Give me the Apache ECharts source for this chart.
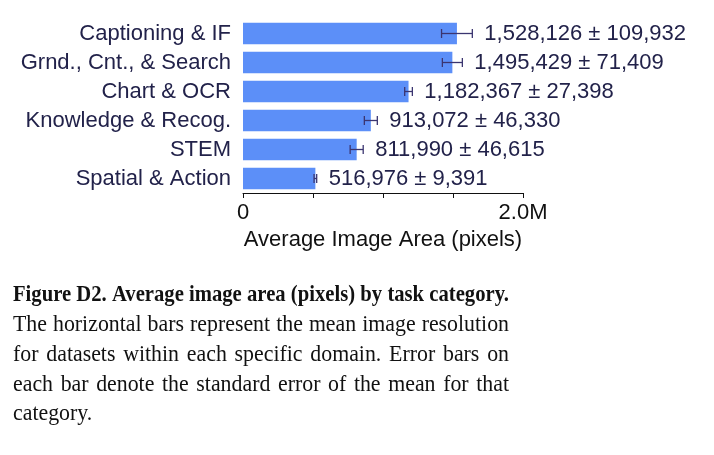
<!DOCTYPE html>
<html>
<head>
<meta charset="utf-8">
<script src="https://cdn.jsdelivr.net/npm/echarts@6/dist/echarts.min.js"></script>
<style>
  html, body { margin: 0; padding: 0; background: #fff; }
  #chart { width: 714px; height: 455px; }
</style>
</head>
<body>
<div id="chart"></div>
<script>
var categories = ['Captioning & IF', 'Grnd., Cnt., & Search', 'Chart & OCR', 'Knowledge & Recog.', 'STEM', 'Spatial & Action'];
var means = [1528126, 1495429, 1182367, 913072, 811990, 516976];
var stdErrs = [109932, 71409, 27398, 46330, 46615, 9391];
var xTicks = [0, 500000, 1000000, 1500000, 2000000];
var captionTitle = 'Figure D2. Average image area (pixels) by task category.';
var captionLines = [
  'The horizontal bars represent the mean image resolution',
  'for datasets within each specific domain.  Error bars on',
  'each bar denote the standard error of the mean for that',
  'category.'
];

var textColor = '#22224a';
var errColor = '#3b3570';
var sansFont = '"Liberation Sans", Arial, sans-serif';
var serifFont = '"Liberation Serif", "DejaVu Serif", serif';

function fmt(n) {
  return n.toString().replace(/\B(?=(\d{3})+(?!\d))/g, ',');
}

var errData = means.map(function (m, i) { return [i, m, stdErrs[i]]; });

// caption: serif text squeezed a little, lines justified word by word
var ctx = document.createElement('canvas').getContext('2d');
var capLeft = 13, capWidth = 496;
function captionLine(text, font, sx, baseline, justify) {
  ctx.font = font;
  var words = text.split(/ +/);
  var widths = words.map(function (w) { return ctx.measureText(w).width * sx; });
  var total = widths.reduce(function (a, b) { return a + b; }, 0);
  var gap = ctx.measureText(' ').width;
  if (justify && words.length > 1) gap = (capWidth - total) / (words.length - 1);
  var out = [], x = capLeft;
  words.forEach(function (w, i) {
    out.push({
      type: 'text',
      x: x,
      y: baseline - 18,
      scaleX: sx,
      style: { text: w, font: font, fill: '#111', textAlign: 'left' }
    });
    x += widths[i] + gap;
  });
  return out;
}

var graphics = captionLine(captionTitle, 'bold 24px ' + serifFont, 0.86, 301, true);
var baselines = [331, 361, 391, 420];
captionLines.forEach(function (line, i) {
  graphics = graphics.concat(captionLine(line, '24px ' + serifFont, 0.91, baselines[i], i < captionLines.length - 1));
});

var chart = echarts.init(document.getElementById('chart'));

var option = {
  animation: false,
  grid: { left: 243, right: 191, top: 19, bottom: 262 },
  xAxis: {
    type: 'value',
    min: 0,
    max: 2000000,
    interval: 500000,
    splitLine: { show: false },
    axisLine: { show: true, lineStyle: { color: '#111', width: 1 } },
    axisTick: { show: true, length: 5, lineStyle: { color: '#111' } },
    axisLabel: {
      color: '#111',
      fontFamily: sansFont,
      fontSize: 22,
      margin: 9,
      formatter: function (v) {
        if (v === xTicks[0]) return '0';
        if (v === xTicks[xTicks.length - 1]) return '2.0M';
        return '';
      }
    },
    name: 'Average Image Area (pixels)',
    nameLocation: 'middle',
    nameGap: 36,
    nameTextStyle: { color: '#111', fontFamily: sansFont, fontSize: 22 }
  },
  yAxis: {
    type: 'category',
    data: categories,
    inverse: true,
    axisLine: { show: false },
    axisTick: { show: false },
    axisLabel: { color: textColor, fontFamily: sansFont, fontSize: 22, margin: 12 }
  },
  series: [{
    type: 'bar',
    data: means,
    barWidth: '74%',
    itemStyle: { color: '#5c8ff8' }
  }, {
    type: 'custom',
    data: errData,
    z: 10,
    renderItem: function (params, api) {
      var idx = api.value(0);
      var m = api.value(1);
      var se = api.value(2);
      var lo = api.coord([m - se, idx]);
      var hi = api.coord([m + se, idx]);
      var cap = 4.5;
      var y = lo[1];
      return {
        type: 'group',
        children: [{
          type: 'line',
          shape: { x1: lo[0], y1: y, x2: hi[0], y2: y },
          style: { stroke: errColor, lineWidth: 1.3 }
        }, {
          type: 'line',
          shape: { x1: lo[0], y1: y - cap, x2: lo[0], y2: y + cap },
          style: { stroke: errColor, lineWidth: 1.3 }
        }, {
          type: 'line',
          shape: { x1: hi[0], y1: y - cap, x2: hi[0], y2: y + cap },
          style: { stroke: errColor, lineWidth: 1.3 }
        }, {
          type: 'text',
          x: hi[0] + 12,
          y: y,
          style: {
            text: fmt(m) + ' \u00b1 ' + fmt(se),
            font: '22px ' + sansFont,
            fill: textColor,
            verticalAlign: 'middle',
            align: 'left'
          }
        }]
      };
    }
  }],
  graphic: graphics
};

chart.setOption(option);
</script>
</body>
</html>
